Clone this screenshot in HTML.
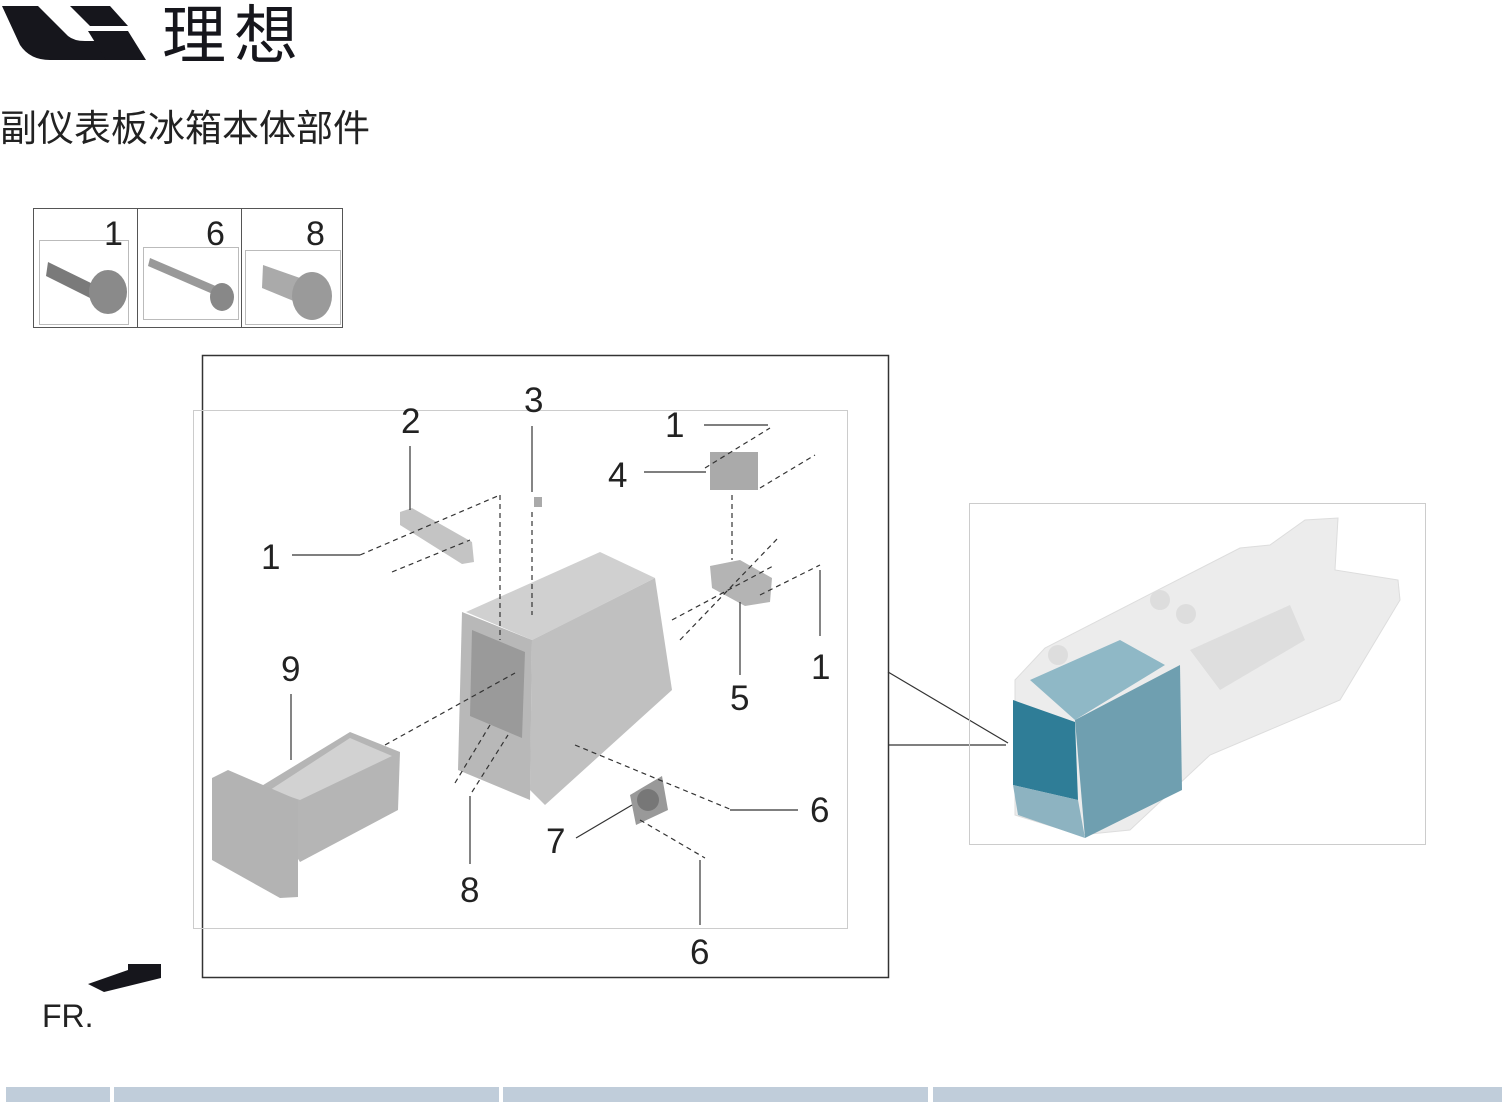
<!DOCTYPE html>
<html><head><meta charset="utf-8"><style>
html,body{margin:0;padding:0;background:#fff;width:1504px;height:1102px;overflow:hidden}
svg{display:block}
text{font-family:"Liberation Sans","Noto Sans CJK SC",sans-serif}
</style></head><body>
<svg width="1504" height="1102" viewBox="0 0 1504 1102" xmlns="http://www.w3.org/2000/svg">
<!-- logo -->
<path d="M2,6 L38,6 L68,36 Q74,41 85,41 L100,41 L118,60 L50,60 Q30,60 20,45 Z" fill="#16161c"/>
<path d="M70,6 L110,6 L128,26 L90,26 Z" fill="#16161c"/>
<path d="M88,31 L128,31 L146,60 L106,60 Z" fill="#16161c"/>
<text x="162" y="58" font-size="64" letter-spacing="8" fill="#16161c">理想</text>
<text x="0" y="141" font-size="37" fill="#222">副仪表板冰箱本体部件</text>

<!-- fastener boxes -->
<rect x="33.5" y="208.5" width="309" height="119" fill="none" stroke="#555"/>
<line x1="137.5" y1="208" x2="137.5" y2="328" stroke="#555"/>
<line x1="241.5" y1="208" x2="241.5" y2="328" stroke="#555"/>
<rect x="39.5" y="240.5" width="89" height="84" fill="none" stroke="#bbb"/>
<rect x="143.5" y="247.5" width="95" height="72" fill="none" stroke="#bbb"/>
<rect x="245.5" y="250.5" width="95" height="74" fill="none" stroke="#bbb"/>
<text x="104" y="245" font-size="34" fill="#222">1</text>
<text x="206" y="245" font-size="34" fill="#222">6</text>
<text x="306" y="245" font-size="34" fill="#222">8</text>
<path d="M48,262 L95,285 L90,298 L46,276 Z" fill="#7a7a7a"/>
<ellipse cx="108" cy="292" rx="19" ry="22" fill="#8a8a8a"/>
<path d="M150,258 L225,290 L222,298 L148,266 Z" fill="#999"/>
<ellipse cx="222" cy="297" rx="12" ry="14" fill="#888"/>
<path d="M263,265 L300,278 L296,302 L262,288 Z" fill="#aaa"/>
<ellipse cx="312" cy="296" rx="20" ry="24" fill="#9a9a9a"/>

<!-- main frame -->
<rect x="202.5" y="355.5" width="686" height="622" fill="none" stroke="#333" stroke-width="1.5"/>
<rect x="193.5" y="410.5" width="654" height="518" fill="none" stroke="#ccc"/>
<polyline points="888,672 1008,743" fill="none" stroke="#333" stroke-width="1.2"/>
<polyline points="888,745 1006,745" fill="none" stroke="#333" stroke-width="1.2"/>

<!-- right image box -->
<rect x="969.5" y="503.5" width="456" height="341" fill="none" stroke="#ccc"/>
<path d="M1015,680 L1045,648 L1240,548 L1270,545 L1305,520 L1338,518 L1335,570 L1398,580 L1400,600 L1340,700 L1210,755 L1130,830 L1080,835 L1015,815 Z" fill="#ececec" stroke="#ddd"/>
<path d="M1190,650 L1290,605 L1305,640 L1220,690 Z" fill="#dedede"/>
<path d="M1030,680 L1120,640 L1165,665 L1075,720 Z" fill="#8fb8c6"/>
<path d="M1075,720 L1180,665 L1182,790 L1085,838 Z" fill="#6f9fb0"/>
<path d="M1013,700 L1075,722 L1078,800 L1013,785 Z" fill="#2f7d97"/>
<path d="M1013,785 L1078,800 L1085,838 L1018,815 Z" fill="#8db3c1"/>
<circle cx="1058" cy="655" r="10" fill="#ddd"/><circle cx="1160" cy="600" r="10" fill="#ddd"/><circle cx="1186" cy="614" r="10" fill="#ddd"/>

<!-- tray 9 -->
<path d="M255,790 L350,732 L400,752 L398,810 L300,862 Z" fill="#b5b5b5"/>
<path d="M270,790 L350,738 L392,756 L300,800 Z" fill="#d2d2d2"/>
<path d="M212,778 L228,770 L298,800 L298,897 L280,898 L212,860 Z" fill="#b3b3b3"/>

<!-- housing -->
<path d="M466,612 L600,552 L655,578 L532,640 Z" fill="#d0d0d0"/>
<path d="M532,640 L655,578 L672,690 L545,805 L530,790 Z" fill="#c0c0c0"/>
<path d="M462,612 L532,640 L530,800 L458,770 Z" fill="#b8b8b8"/>
<path d="M472,630 L525,652 L522,738 L470,716 Z" fill="#9a9a9a"/>

<!-- small parts -->
<path d="M400,512 L412,508 L472,542 L474,562 L462,564 L400,525 Z" fill="#c4c4c4"/>
<rect x="710" y="452" width="48" height="38" fill="#aaa"/>
<path d="M710,566 L740,560 L772,578 L770,602 L745,606 L712,588 Z" fill="#b4b4b4"/>
<path d="M630,795 L662,776 L668,810 L636,825 Z" fill="#999"/>
<circle cx="648" cy="800" r="11" fill="#777"/>
<rect x="534" y="497" width="8" height="10" fill="#aaa"/>

<!-- dashed lines -->
<g stroke="#333" stroke-width="1.2" stroke-dasharray="5,4" fill="none">
<line x1="360" y1="555" x2="500" y2="495"/>
<line x1="500" y1="495" x2="500" y2="640"/>
<line x1="392" y1="572" x2="470" y2="540"/>
<line x1="532" y1="512" x2="532" y2="615"/>
<line x1="705" y1="468" x2="770" y2="428"/>
<line x1="760" y1="488" x2="815" y2="455"/>
<line x1="732" y1="495" x2="732" y2="560"/>
<line x1="672" y1="620" x2="775" y2="565"/>
<line x1="680" y1="640" x2="778" y2="538"/>
<line x1="760" y1="595" x2="820" y2="565"/>
<line x1="385" y1="745" x2="515" y2="673"/>
<line x1="455" y1="783" x2="490" y2="725"/>
<line x1="472" y1="792" x2="508" y2="735"/>
<line x1="575" y1="745" x2="732" y2="810"/>
<line x1="640" y1="820" x2="705" y2="858"/>
</g>

<!-- leader lines -->
<g stroke="#333" stroke-width="1.2">
<line x1="410" y1="446" x2="410" y2="510"/>
<line x1="532" y1="426" x2="532" y2="492"/>
<line x1="704" y1="425" x2="768" y2="425"/>
<line x1="644" y1="472" x2="706" y2="472"/>
<line x1="292" y1="555" x2="360" y2="555"/>
<line x1="820" y1="570" x2="820" y2="636"/>
<line x1="740" y1="602" x2="740" y2="675"/>
<line x1="291" y1="694" x2="291" y2="760"/>
<line x1="730" y1="810" x2="798" y2="810"/>
<line x1="576" y1="838" x2="632" y2="805"/>
<line x1="470" y1="796" x2="470" y2="864"/>
<line x1="700" y1="860" x2="700" y2="925"/>
</g>

<g font-size="35" fill="#222">
<text x="401" y="433">2</text>
<text x="524" y="412">3</text>
<text x="665" y="437">1</text>
<text x="608" y="487">4</text>
<text x="261" y="569">1</text>
<text x="811" y="679">1</text>
<text x="730" y="710">5</text>
<text x="281" y="681">9</text>
<text x="810" y="822">6</text>
<text x="546" y="853">7</text>
<text x="460" y="902">8</text>
<text x="690" y="964">6</text>
</g>

<!-- FR arrow -->
<path d="M88,984 L128,970 L128,964 L161,964 L161,978 L104,992 Z" fill="#16161c"/>
<text x="42" y="1027" font-size="32" fill="#222">FR.</text>

<!-- bottom bar -->
<g fill="#c0cdda">
<rect x="6" y="1087" width="104" height="15"/>
<rect x="114" y="1087" width="385" height="15"/>
<rect x="503" y="1087" width="425" height="15"/>
<rect x="933" y="1087" width="569" height="15"/>
</g>
</svg>
</body></html>
